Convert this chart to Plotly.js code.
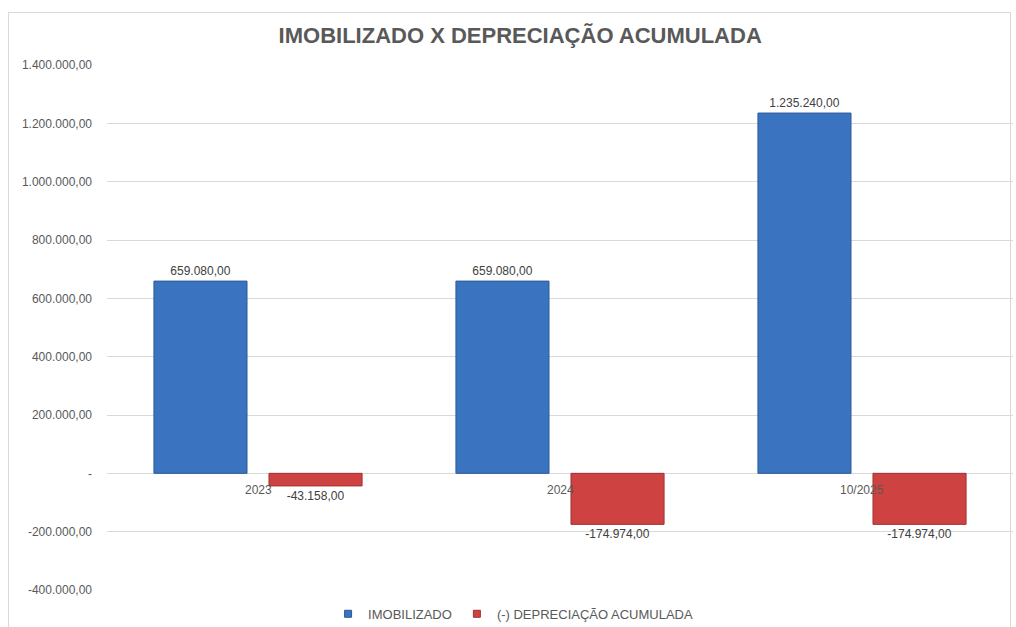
<!DOCTYPE html>
<html>
<head>
<meta charset="utf-8">
<script src="https://cdn.plot.ly/plotly-3.0.1.min.js"></script>
<style>
html,body{margin:0;padding:0;background:#fff;}
#wrap{position:relative;width:1016px;height:627px;}
#chart{position:absolute;left:0;top:0;width:1016px;height:627px;}
#frame{position:absolute;left:8px;top:12px;width:1003px;height:618px;border:1px solid #d9d9d9;box-sizing:border-box;pointer-events:none;}
</style>
</head>
<body>
<div id="wrap"><div id="chart"></div><div id="frame"></div></div>
<script>
const categories = ["2023", "2024", "10/2025"];
const imobilizado = [659080, 659080, 1235240];
const depreciacao = [-43158, -174974, -174974];
const seriesNames = ["IMOBILIZADO", "(-) DEPRECIAÇÃO ACUMULADA"];
const yTickVals = [-400000, -200000, 0, 200000, 400000, 600000, 800000, 1000000, 1200000, 1400000];

function fmtBR(v) {
  if (v === 0) return "-";
  const neg = v < 0;
  const a = Math.abs(v);
  const intPart = Math.floor(a).toString().replace(/\B(?=(\d{3})+(?!\d))/g, ".");
  const dec = (a - Math.floor(a)).toFixed(2).slice(2);
  return (neg ? "-" : "") + intPart + "," + dec;
}

const fontFam = "Liberation Sans, Arial, sans-serif";
const blue = "#3a74c0", blueEdge = "#2c5a98";
const red = "#cf4242", redEdge = "#a03030";

const traces = [
  {
    type: "bar", name: seriesNames[0], x: categories, y: imobilizado, showlegend: false,
    marker: {color: blue, line: {color: blueEdge, width: 1}},
    text: imobilizado.map(fmtBR), textposition: "outside", cliponaxis: false,
    textfont: {family: fontFam, size: 12, color: "#404040"},
    hoverinfo: "skip"
  },
  {
    type: "bar", name: seriesNames[1], x: categories, y: depreciacao, showlegend: false,
    marker: {color: red, line: {color: redEdge, width: 1}},
    text: depreciacao.map(fmtBR), textposition: "outside", cliponaxis: false,
    textfont: {family: fontFam, size: 12, color: "#404040"},
    hoverinfo: "skip"
  },
  {
    type: "scatter", mode: "markers", name: seriesNames[0], x: [null], y: [null],
    marker: {symbol: "square", size: 7, color: blue, line: {color: blueEdge, width: 1}}
  },
  {
    type: "scatter", mode: "markers", name: seriesNames[1], x: [null], y: [null],
    marker: {symbol: "square", size: 7, color: red, line: {color: redEdge, width: 1}}
  }
];

const annotations = categories.map((c, i) => ({
  x: i, y: 0, xref: "x", yref: "y", text: c, showarrow: false,
  yanchor: "top", yshift: -8,
  font: {family: fontFam, size: 12, color: "#595959"}
}));

const layout = {
  width: 1016, height: 627,
  margin: {l: 107, r: 3, t: 65, b: 37},
  paper_bgcolor: "rgba(0,0,0,0)", plot_bgcolor: "rgba(0,0,0,0)",
  title: {
    text: "<b>IMOBILIZADO X DEPRECIAÇÃO ACUMULADA</b>",
    font: {family: fontFam, size: 22, color: "#595959"},
    x: 0.512, xanchor: "center", y: 0.943, yanchor: "middle", yref: "container"
  },
  barmode: "group", bargap: 0.238, bargroupgap: 0.191,
  xaxis: {type: "category", range: [-0.5, categories.length - 0.5], showticklabels: false, showgrid: false, zeroline: false, showline: false, ticks: ""},
  yaxis: {
    range: [-400000, 1400000], tickvals: yTickVals, ticktext: yTickVals.map(fmtBR),
    showgrid: true, gridcolor: "#d9d9d9", gridwidth: 1,
    zeroline: true, zerolinecolor: "#d9d9d9", zerolinewidth: 1,
    ticks: "", ticklabelstandoff: 14,
    tickfont: {family: fontFam, size: 12, color: "#595959"}, fixedrange: true
  },
  showlegend: true,
  legend: {
    orientation: "h", xref: "container", yref: "container",
    x: 0.505, xanchor: "center", y: 0.021, yanchor: "middle",
    font: {family: fontFam, size: 13, color: "#595959"},
    itemwidth: 30, traceorder: "normal", bgcolor: "rgba(0,0,0,0)"
  },
  annotations: annotations
};

Plotly.newPlot("chart", traces, layout, {displayModeBar: false, staticPlot: true});
</script>
</body>
</html>
